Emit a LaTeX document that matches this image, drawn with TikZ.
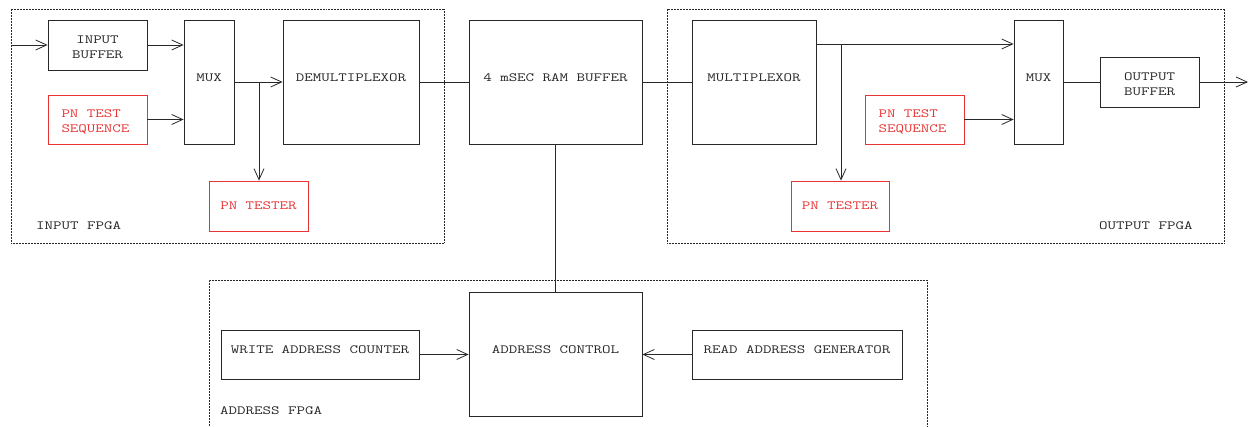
\documentclass[tikz,border=0pt]{standalone}
\usepackage{fontspec}
\setmonofont[FakeStretch=1.32]{Latin Modern Mono}
\usetikzlibrary{arrows.meta}
\definecolor{ink}{RGB}{40,40,40}
\definecolor{pnred}{RGB}{232,52,52}
\newcommand{\lift}[2]{\raisebox{#1}[0pt][0pt]{#2}}
\newcommand{\twoc}[2]{\parbox{70pt}{\centering #1\\#2}}
\newcommand{\twol}[2]{\parbox{72pt}{#1\\#2}}
\begin{document}
\begin{tikzpicture}[x=1pt,y=-1pt,
  font=\ttfamily\fontsize{12.5}{15}\selectfont,
  box/.style={draw=ink,line width=0.8pt,inner sep=0pt,minimum width=#1,text=ink},
  redbox/.style={draw=pnred,line width=0.8pt,inner sep=0pt,minimum width=#1,text=pnred},
  conn/.style={draw=ink,line width=0.8pt},
  arr/.style={conn,-{Straight Barb[length=11pt,width=10pt,line width=0.8pt]}},
  frame/.style={draw=ink,line width=0.5pt,densely dotted},
  flabel/.style={text=ink,inner sep=0pt,anchor=west}]
\useasboundingbox (0,0) rectangle (1251,427);
% frames
\draw[frame] (11,9) rectangle (444,243);
\draw[frame] (667,9) rectangle (1224,243);
\draw[frame] (209,429) -- (209,280) -- (927,280) -- (927,429);
\node[flabel] (lin) at (36,226) {INPUT FPGA};
\node[flabel] (lout) at (1099,226) {OUTPUT FPGA};
\node[flabel] (ladr) at (220,411) {ADDRESS FPGA};
% input FPGA
\node[box=99pt,minimum height=50pt] (ibuf) at (97.5,45) {\lift{-5.5pt}{\twoc{INPUT}{BUFFER}}};
\node[redbox=99pt,minimum height=49pt] (pts1) at (97.5,119.5) {\lift{-5pt}{\twol{PN TEST}{SEQUENCE}}};
\node[box=50pt,minimum height=124pt] (mux1) at (209,82) {\lift{0.2pt}{MUX}};
\node[box=136pt,minimum height=124pt] (demux) at (351,82) {\lift{0.2pt}{DEMULTIPLEXOR}};
\node[redbox=99pt,minimum height=50pt] (pnt1) at (258.5,206) {PN TESTER};
% RAM
\node[box=173pt,minimum height=124pt] (ram) at (555.5,82) {\lift{0.2pt}{4 mSEC RAM BUFFER}};
% output FPGA
\node[box=124pt,minimum height=124pt] (mult) at (754,82) {\lift{0.2pt}{MULTIPLEXOR}};
\node[box=49pt,minimum height=124pt] (mux2) at (1038.5,82) {\lift{0.2pt}{MUX}};
\node[redbox=99pt,minimum height=49pt] (pts2) at (914.5,119.5) {\lift{-5pt}{\twol{PN TEST}{SEQUENCE}}};
\node[box=99pt,minimum height=50pt] (obuf) at (1149.5,82) {\lift{-5.5pt}{\twoc{OUTPUT}{BUFFER}}};
\node[redbox=98pt,minimum height=50pt] (pnt2) at (840,206) {PN TESTER};
% address FPGA
\node[box=173pt,minimum height=124pt] (actl) at (555.5,354) {\lift{0.2pt}{ADDRESS CONTROL}};
\node[box=198pt,minimum height=49pt] (wac) at (320,354.5) {\lift{0.7pt}{WRITE ADDRESS COUNTER}};
\node[box=210pt,minimum height=49pt] (rag) at (797,354.5) {\lift{0.7pt}{READ ADDRESS GENERATOR}};
% connectors
\coordinate (inp) at (11,45);
\coordinate (outp) at (1248,82);
\coordinate (b1) at (259,82);
\coordinate (b2) at (841,44);
\draw[arr] (inp) -- (ibuf.west);
\draw[arr] (ibuf.east) -- (ibuf.east -| mux1.west);
\draw[arr] (pts1.east) -- (pts1.east -| mux1.west);
\draw[arr] (mux1.east) -- (demux.west);
\draw[arr] (b1) -- (pnt1.north -| b1);
\draw[conn] (demux.east) -- (ram.west);
\draw[conn] (ram.east) -- (mult.west);
\draw[arr] (mult.east |- b2) -- (mux2.west |- b2);
\draw[arr] (b2) -- (pnt2.north -| b2);
\draw[arr] (pts2.east) -- (pts2.east -| mux2.west);
\draw[conn] (mux2.east) -- (obuf.west);
\draw[arr] (obuf.east) -- (outp);
\draw[conn] (ram.south) -- (actl.north);
\draw[arr] (wac.east) -- (wac.east -| actl.west);
\draw[arr] (rag.west) -- (rag.west -| actl.east);
\end{tikzpicture}
\end{document}
